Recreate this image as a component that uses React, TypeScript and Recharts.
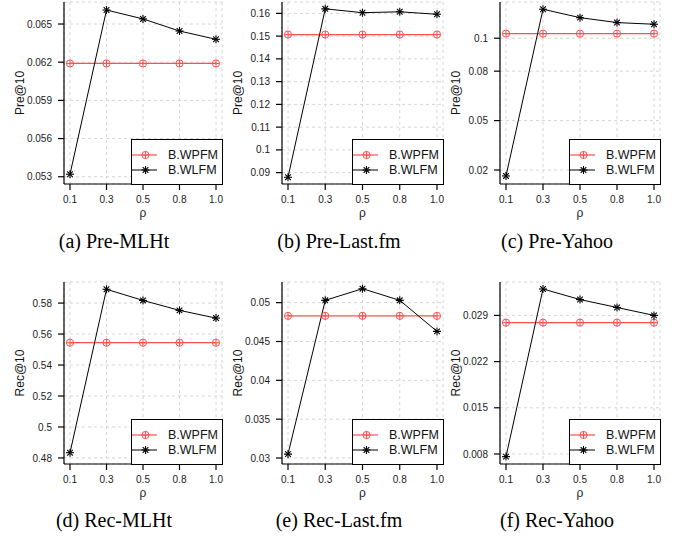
import React from "react";
import { LineChart, Line, XAxis, YAxis, CartesianGrid, Legend, Label } from "recharts";

// ── data ──────────────────────────────────────────────────────────────
const rho = ["0.1", "0.3", "0.5", "0.8", "1.0"];

const preMLHtWPFM = [0.0619, 0.0619, 0.0619, 0.0619, 0.0619];
const preMLHtWLFM = [0.0532, 0.0661, 0.0654, 0.06445, 0.0638];
const preMLHtTicks = [0.053, 0.056, 0.059, 0.062, 0.065];

const preLastfmWPFM = [0.1507, 0.1507, 0.1507, 0.1507, 0.1507];
const preLastfmWLFM = [0.088, 0.162, 0.1603, 0.1607, 0.1596];
const preLastfmTicks = [0.09, 0.1, 0.11, 0.12, 0.13, 0.14, 0.15, 0.16];

const preYahooWPFM = [0.1028, 0.1028, 0.1028, 0.1028, 0.1028];
const preYahooWLFM = [0.0164, 0.1176, 0.1125, 0.1095, 0.1085];
const preYahooTicks = [0.02, 0.05, 0.08, 0.1];

const recMLHtWPFM = [0.5544, 0.5544, 0.5544, 0.5544, 0.5544];
const recMLHtWLFM = [0.4834, 0.5889, 0.5817, 0.5753, 0.5703];
const recMLHtTicks = [0.48, 0.5, 0.52, 0.54, 0.56, 0.58];

const recLastfmWPFM = [0.0483, 0.0483, 0.0483, 0.0483, 0.0483];
const recLastfmWLFM = [0.0305, 0.0503, 0.0518, 0.0503, 0.0463];
const recLastfmTicks = [0.03, 0.035, 0.04, 0.045, 0.05];

const recYahooWPFM = [0.0279, 0.0279, 0.0279, 0.0279, 0.0279];
const recYahooWLFM = [0.0076, 0.033, 0.0314, 0.0302, 0.029];
const recYahooTicks = [0.008, 0.015, 0.022, 0.029];

// ── layout / style ────────────────────────────────────────────────────
const RED = "#ff5050";
const SANS = "'Liberation Sans', Arial, sans-serif";
const SERIF = "'Liberation Serif', 'Times New Roman', serif";

const COL_LEFT = [64, 282, 500]; // plot box left edges
const COL_W = [158, 161, 160];
const ROW_TOP = [2, 282];
const BOX_H = 182;
const Y_AXIS_W = 64;
const X_AXIS_H = 40;
const LEG_W = 92;
const LEG_H = 46;
const CAPTION_X = [114, 339, 557];
const CAPTION_Y = [241, 520];

/* eslint-disable @typescript-eslint/no-explicit-any */
function CirclePlus({ cx, cy, r = 3.6 }: any) {
  return (
    <g stroke={RED} strokeWidth={1} fill="none">
      <circle cx={cx} cy={cy} r={r} />
      <line x1={cx - r} y1={cy} x2={cx + r} y2={cy} />
      <line x1={cx} y1={cy - r} x2={cx} y2={cy + r} />
    </g>
  );
}

function Asterisk({ cx, cy, r = 4 }: any) {
  const d = r * 0.707;
  return (
    <g stroke="#000" strokeWidth={1.1}>
      <line x1={cx - r} y1={cy} x2={cx + r} y2={cy} />
      <line x1={cx} y1={cy - r} x2={cx} y2={cy + r} />
      <line x1={cx - d} y1={cy - d} x2={cx + d} y2={cy + d} />
      <line x1={cx - d} y1={cy + d} x2={cx + d} y2={cy - d} />
    </g>
  );
}

function LegendBox() {
  return (
    <div style={{ width: LEG_W, height: LEG_H, boxSizing: "border-box", border: "1px solid #000", background: "#fff" }}>
      <svg width={LEG_W - 2} height={LEG_H - 2} style={{ display: "block" }}>
        <line x1={0} y1={15} x2={25} y2={15} stroke={RED} strokeWidth={1.2} />
        <CirclePlus cx={13.5} cy={15} />
        <text x={36} y={15} dominantBaseline="central" fontFamily={SANS} fontSize={12.5} fill="#111">B.WPFM</text>
        <line x1={0} y1={30} x2={25} y2={30} stroke="#000" strokeWidth={1} />
        <Asterisk cx={13.5} cy={30} />
        <text x={36} y={30} dominantBaseline="central" fontFamily={SANS} fontSize={12.5} fill="#111">B.WLFM</text>
      </svg>
    </div>
  );
}

type PanelProps = {
  col: number;
  row: number;
  wpfm: number[];
  wlfm: number[];
  ticks: number[];
  domain: [number, number];
  yLabel: string;
  caption: string;
};

function Panel({ col, row, wpfm, wlfm, ticks, domain, yLabel, caption }: PanelProps) {
  const data = rho.map((r, i) => ({ rho: r, wpfm: wpfm[i], wlfm: wlfm[i] }));
  const boxW = COL_W[col];
  const w = Y_AXIS_W + boxW + 3;
  const h = 2 + BOX_H + X_AXIS_H;
  const tickStyle = { fill: "#222", fontSize: 10, fontFamily: SANS };
  return (
    <>
      <div style={{ position: "absolute", left: COL_LEFT[col] - Y_AXIS_W, top: ROW_TOP[row] - 2 }}>
        <LineChart width={w} height={h} data={data} margin={{ top: 2, right: 3, bottom: 0, left: 0 }}>
          <CartesianGrid stroke="#d6d6d6" strokeDasharray="3 3" />
          <XAxis
            dataKey="rho"
            padding={{ left: 6, right: 6 }}
            height={X_AXIS_H}
            tick={tickStyle}
            tickSize={6}
            tickMargin={6}
            stroke="#000"
            strokeWidth={1.2}
            interval={0}
          >
            <Label
              content={() => (
                <text x={Y_AXIS_W + boxW / 2} y={2 + BOX_H + 29} textAnchor="middle" dominantBaseline="central"
                  fontFamily={SANS} fontSize={12} fill="#222">ρ</text>
              )}
            />
          </XAxis>
          <XAxis xAxisId="top" dataKey="rho" orientation="top" height={0} tick={false} tickLine={false} stroke="#000" strokeWidth={1.2} padding={{ left: 6, right: 6 }} />
          <YAxis
            type="number"
            domain={domain}
            allowDataOverflow
            ticks={ticks}
            interval={0}
            width={Y_AXIS_W}
            tick={tickStyle}
            tickSize={6}
            tickMargin={6}
            stroke="#000"
            strokeWidth={1.2}
          >
            <Label
              content={() => (
                <text x={20} y={2 + BOX_H / 2} textAnchor="middle" dominantBaseline="central"
                  transform={`rotate(-90 20 ${2 + BOX_H / 2})`} fontFamily={SANS} fontSize={12} fill="#111">{yLabel}</text>
              )}
            />
          </YAxis>
          <YAxis yAxisId="right" orientation="right" width={0} tick={false} tickLine={false} stroke="#000" strokeWidth={1.2} domain={domain} />
          <Legend
            layout="vertical"
            align="center"
            verticalAlign="middle"
            content={() => <LegendBox />}
            wrapperStyle={{ left: Y_AXIS_W + boxW - LEG_W + 0.5, top: 2 + BOX_H - LEG_H + 0.5, width: LEG_W, height: LEG_H }}
          />
          <Line
            dataKey="wpfm"
            name="B.WPFM"
            stroke={RED}
            strokeWidth={1.2}
            isAnimationActive={false}
            dot={(p: any) => <CirclePlus key={`p${p.index}`} cx={p.cx} cy={p.cy} />}
          />
          <Line
            dataKey="wlfm"
            name="B.WLFM"
            stroke="#000"
            strokeWidth={1}
            isAnimationActive={false}
            dot={(p: any) => <Asterisk key={`s${p.index}`} cx={p.cx} cy={p.cy} />}
          />
        </LineChart>
      </div>
      <div
        style={{
          position: "absolute", left: CAPTION_X[col] - 110, top: CAPTION_Y[row] - 12, width: 220, height: 24,
          lineHeight: "24px", textAlign: "center", fontFamily: SERIF, fontSize: 20, color: "#000",
        }}
      >
        {caption}
      </div>
    </>
  );
}
/* eslint-enable @typescript-eslint/no-explicit-any */

export default function App() {
  return (
    <div style={{ position: "relative", width: 678, height: 542, background: "#fff", overflow: "hidden" }}>
      <style>{"body{margin:0}"}</style>
      <Panel col={0} row={0} wpfm={preMLHtWPFM} wlfm={preMLHtWLFM} ticks={preMLHtTicks} domain={[0.05243, 0.06673]} yLabel="Pre@10" caption="(a) Pre-MLHt" />
      <Panel col={1} row={0} wpfm={preLastfmWPFM} wlfm={preLastfmWLFM} ticks={preLastfmTicks} domain={[0.085, 0.165]} yLabel="Pre@10" caption="(b) Pre-Last.fm" />
      <Panel col={2} row={0} wpfm={preYahooWPFM} wlfm={preYahooWLFM} ticks={preYahooTicks} domain={[0.0115, 0.122]} yLabel="Pre@10" caption="(c) Pre-Yahoo" />
      <Panel col={0} row={1} wpfm={recMLHtWPFM} wlfm={recMLHtWLFM} ticks={recMLHtTicks} domain={[0.4761, 0.5936]} yLabel="Rec@10" caption="(d) Rec-MLHt" />
      <Panel col={1} row={1} wpfm={recLastfmWPFM} wlfm={recLastfmWLFM} ticks={recLastfmTicks} domain={[0.02923, 0.05266]} yLabel="Rec@10" caption="(e) Rec-Last.fm" />
      <Panel col={2} row={1} wpfm={recYahooWPFM} wlfm={recYahooWLFM} ticks={recYahooTicks} domain={[0.00648, 0.03406]} yLabel="Rec@10" caption="(f) Rec-Yahoo" />
    </div>
  );
}
